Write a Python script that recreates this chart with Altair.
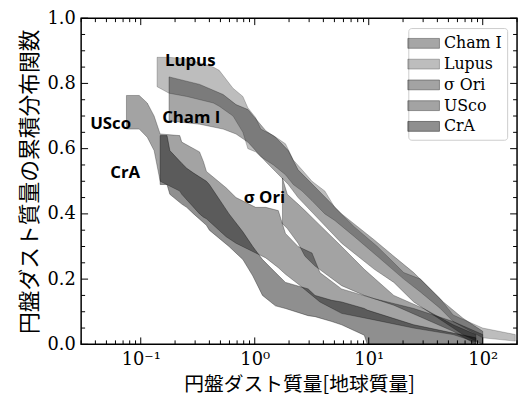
import altair as alt
import pandas as pd

regions = ["Cham I", "Lupus", "σ Ori", "USco", "CrA"]
fills = ["rgba(0,0,0,0.35)", "rgba(0,0,0,0.26)", "rgba(0,0,0,0.36)", "rgba(0,0,0,0.36)", "rgba(0,0,0,0.44)"]

# Band data: dust mass (Earth masses), lower / upper CDF bounds
lupus_x = [0.139, 0.177, 0.253, 0.433, 0.488, 0.645, 0.787, 0.870, 1.02, 1.13, 1.46, 1.86, 2.18,
           2.60, 3.18, 4.12, 5.03, 7.49, 11.9, 20.3, 28.5, 42.4, 55.0, 100, 193]
lupus_hi = [0.88, 0.88, 0.875, 0.85, 0.84, 0.785, 0.76, 0.725, 0.695, 0.66, 0.64, 0.615, 0.565,
            0.535, 0.50, 0.47, 0.42, 0.36, 0.30, 0.22, 0.20, 0.14, 0.09, 0.05, 0.03]
lupus_lo = [0.79, 0.77, 0.76, 0.74, 0.73, 0.70, 0.65, 0.60, 0.59, 0.575, 0.55, 0.52, 0.49,
            0.47, 0.44, 0.40, 0.38, 0.33, 0.27, 0.20, 0.16, 0.11, 0.07, 0.02, 0.01]

cham_x = [0.177, 0.328, 0.528, 0.685, 0.870, 1.25, 1.52, 1.97, 2.40, 5.78, 11.2, 16.6, 24.8, 45.1, 67.1, 100]
cham_hi = [0.82, 0.797, 0.766, 0.735, 0.72, 0.655, 0.635, 0.594, 0.535, 0.40, 0.32, 0.27, 0.22, 0.13, 0.08, 0.04]
cham_lo = [0.685, 0.675, 0.66, 0.645, 0.62, 0.56, 0.53, 0.49, 0.45, 0.31, 0.23, 0.19, 0.13, 0.07, 0.03, 0.0]

sori_x = [1.75, 1.93, 2.40, 2.76, 3.38, 5.78, 9.14, 16.6, 30.2, 55.0, 87.0]
sori_hi = [0.51, 0.46, 0.43, 0.41, 0.38, 0.30, 0.23, 0.15, 0.11, 0.06, 0.03]
sori_lo = [0.37, 0.355, 0.31, 0.27, 0.24, 0.18, 0.15, 0.12, 0.08, 0.04, 0.0]

usco_x = [0.0749, 0.097, 0.114, 0.131, 0.148, 0.220, 0.229, 0.328, 0.355, 0.377, 0.561, 0.685,
          1.02, 1.25, 1.61, 1.86, 2.40, 3.18, 3.73, 5.78, 11.2, 24.8, 55.0, 100]
usco_hi = [0.763, 0.763, 0.74, 0.70, 0.645, 0.64, 0.62, 0.59, 0.56, 0.53, 0.48, 0.45,
           0.42, 0.42, 0.41, 0.34, 0.30, 0.28, 0.22, 0.17, 0.14, 0.11, 0.07, 0.03]
usco_lo = [0.66, 0.66, 0.635, 0.594, 0.50, 0.47, 0.46, 0.40, 0.39, 0.385, 0.33, 0.31,
           0.28, 0.265, 0.235, 0.215, 0.185, 0.15, 0.13, 0.095, 0.075, 0.05, 0.03, 0.0]

cra_x = [0.148, 0.170, 0.180, 0.229, 0.253, 0.291, 0.377, 0.400, 0.595, 0.787, 0.961, 1.17,
         1.52, 1.86, 2.94, 3.38, 4.74, 5.78, 9.14, 9.71, 24.8, 87.0]
cra_hi = [0.64, 0.64, 0.594, 0.555, 0.54, 0.525, 0.50, 0.49, 0.40, 0.345, 0.30, 0.26,
          0.22, 0.19, 0.17, 0.15, 0.135, 0.13, 0.11, 0.105, 0.06, 0.02]
cra_lo = [0.49, 0.49, 0.46, 0.43, 0.42, 0.40, 0.365, 0.35, 0.30, 0.26, 0.21, 0.15,
          0.118, 0.11, 0.088, 0.085, 0.07, 0.06, 0.028, 0.0, 0.0, 0.0]

label_text = ["Lupus", "Cham I", "USco", "CrA", "σ Ori"]
label_x = [0.163, 0.154, 0.036, 0.054, 0.80]
label_y = [0.87, 0.694, 0.676, 0.525, 0.448]

x_major = [0.1, 1, 10, 100]
x_minor = [0.03, 0.04, 0.05, 0.06, 0.07, 0.08, 0.09,
           0.2, 0.3, 0.4, 0.5, 0.6, 0.7, 0.8, 0.9,
           2, 3, 4, 5, 6, 7, 8, 9,
           20, 30, 40, 50, 60, 70, 80, 90, 200]
y_major = [0.0, 0.2, 0.4, 0.6, 0.8, 1.0]
y_minor = [0.05, 0.1, 0.15, 0.25, 0.3, 0.35, 0.45, 0.5, 0.55, 0.65, 0.7, 0.75, 0.85, 0.9, 0.95]

W, H = 441, 330

rows = []
for name, xs, his, los in [("Cham I", cham_x, cham_hi, cham_lo),
                           ("Lupus", lupus_x, lupus_hi, lupus_lo),
                           ("σ Ori", sori_x, sori_hi, sori_lo),
                           ("USco", usco_x, usco_hi, usco_lo),
                           ("CrA", cra_x, cra_hi, cra_lo)]:
    for xv, h, l in zip(xs, his, los):
        rows.append({"region": name, "mass": xv, "hi": h, "lo": l})
bands = pd.DataFrame(rows)

xscale = alt.Scale(type="log", domain=[0.03, 200], nice=False)
yscale = alt.Scale(domain=[0, 1], nice=False)

label_expr = ("datum.value == 0.1 ? '10⁻¹' : datum.value == 1 ? '10⁰' : "
              "datum.value == 10 ? '10¹' : '10²'")
XTITLE = "円盤ダスト質量[地球質量]"
YTITLE = "円盤ダスト質量の累積分布関数"


def xaxis():
    return alt.Axis(values=x_major, labelExpr=label_expr, ticks=False, domain=False,
                    grid=False, title=XTITLE)


def yaxis():
    return alt.Axis(values=y_major, format=".1f", ticks=False, domain=False, grid=False,
                    title=YTITLE)


area = alt.Chart(bands).mark_area(interpolate="linear", clip=True, strokeWidth=0.8).encode(
    x=alt.X("mass:Q", scale=xscale, axis=xaxis(), title=XTITLE),
    y=alt.Y("hi:Q", scale=yscale, axis=yaxis(), title=YTITLE),
    y2="lo:Q",
    color=alt.Color("region:N", scale=alt.Scale(domain=regions, range=fills),
                    sort=regions,
                    legend=alt.Legend(title=None, orient="top-right", offset=10)),
    stroke=alt.Stroke("region:N", scale=alt.Scale(domain=regions, range=fills), legend=None),
)

labels_df = pd.DataFrame({"t": label_text, "x": label_x, "y": label_y})
labels = alt.Chart(labels_df).mark_text(align="left", baseline="middle", font="Open Sans",
                                        fontWeight="bold", fontSize=17, color="black").encode(
    x=alt.X("x:Q", scale=xscale, axis=xaxis(), title=XTITLE),
    y=alt.Y("y:Q", scale=yscale, axis=yaxis(), title=YTITLE),
    text="t:N",
)


def xticks(vals, length):
    df = pd.DataFrame({"v": vals})
    bot = alt.Chart(df).mark_rule(color="black", strokeWidth=1).encode(
        x=alt.X("v:Q", scale=xscale, axis=xaxis(), title=XTITLE),
        y=alt.value(H), y2=alt.value(H - length))
    top = alt.Chart(df).mark_rule(color="black", strokeWidth=1).encode(
        x=alt.X("v:Q", scale=xscale, axis=xaxis(), title=XTITLE),
        y=alt.value(0), y2=alt.value(length))
    return [bot, top]


def yticks(vals, length):
    df = pd.DataFrame({"v": vals})
    left = alt.Chart(df).mark_rule(color="black", strokeWidth=1).encode(
        y=alt.Y("v:Q", scale=yscale, axis=yaxis(), title=YTITLE),
        x=alt.value(0), x2=alt.value(length))
    right = alt.Chart(df).mark_rule(color="black", strokeWidth=1).encode(
        y=alt.Y("v:Q", scale=yscale, axis=yaxis(), title=YTITLE),
        x=alt.value(W), x2=alt.value(W - length))
    return [left, right]


layers = [area, labels] + xticks(x_major, 7) + xticks(x_minor, 4) + yticks(y_major, 7) + yticks(y_minor, 4)

chart = alt.layer(*layers).properties(
    width=W, height=H,
    autosize=alt.AutoSizeParams(type="none"),
    padding={"left": 74, "top": 8, "right": 4, "bottom": 54},
).configure_view(
    stroke="black", strokeWidth=1.5
).configure_axis(
    labelFont="DejaVu Serif", labelFontSize=18, labelColor="black", labelPadding=6,
    titleFont="Noto Sans CJK JP", titleFontWeight="normal", titleColor="black",
).configure_axisX(titlePadding=7, titleFontSize=20).configure_axisY(
    titlePadding=6, titleFontSize=22
).configure_legend(
    fillColor="white", strokeColor="#cccccc", cornerRadius=3, padding=5,
    labelFont="DejaVu Serif", labelFontSize=16, labelColor="black",
    symbolType="M-1.6,-0.5H1.6V0.5H-1.6Z", symbolSize=400, symbolStrokeWidth=1,
    rowPadding=2, labelOffset=10,
)

chart.save("out.html", embed_options={"renderer": "svg", "actions": False})
